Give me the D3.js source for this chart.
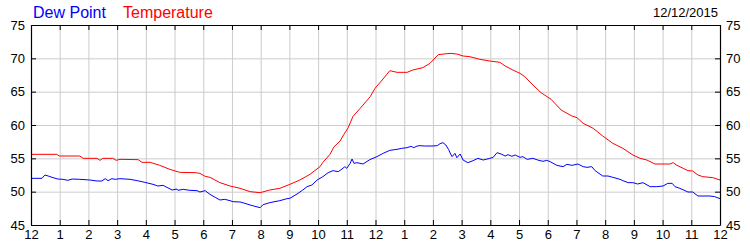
<!DOCTYPE html>
<html>
<head>
<meta charset="utf-8">
<script src="https://cdn.jsdelivr.net/npm/d3@7"></script>
<style>
  body { margin: 0; background: #fff; }
  text { font-family: "Liberation Sans", Arial, sans-serif; }
</style>
</head>
<body>
<svg width="750" height="250"></svg>
<script>
// minutes after midnight, readings in deg F
var tempMinutes = [0,54,59,102,109,138,144,150,171,178,186,224,232,249,269,290,311,343,353,364,374,395,416,437,458,479,499,520,541,562,583,604,610,625,633,646,654,663,673,688,709,719,734,750,765,786,798,819,834,851,876,890,903,917,938,959,980,991,1007,1022,1032,1049,1066,1087,1108,1129,1141,1154,1175,1195,1216,1237,1258,1273,1287,1304,1335,1342,1350,1363,1373,1383,1394,1404,1425,1440];
var tempValues = [55.6,55.6,55.35,55.35,55.0,55.0,54.7,55.0,55.0,54.7,54.85,54.8,54.4,54.4,53.95,53.35,52.9,52.85,52.75,52.3,52.15,51.35,50.85,50.5,50.0,49.85,50.25,50.5,51.1,51.75,52.6,53.75,54.4,55.6,56.7,57.6,58.6,59.6,61.3,62.5,64.25,65.5,66.75,68.15,67.9,67.9,68.25,68.6,69.25,70.55,70.75,70.65,70.35,70.25,69.85,69.6,69.4,68.85,68.25,67.75,67.25,66.0,64.85,63.85,62.25,61.4,61.1,60.25,59.5,58.35,57.25,56.5,55.5,55.0,54.75,54.15,54.15,54.35,53.95,53.5,53.15,53.1,52.5,52.25,52.1,51.75];

var dewMinutes = [0,23,29,36,46,56,67,77,86,102,123,138,148,155,161,169,176,186,207,222,238,255,265,276,284,295,305,307,318,332,347,353,364,374,385,395,405,416,422,437,447,458,468,479,485,499,520,535,541,556,568,577,587,598,610,621,631,642,650,656,660,667,671,675,681,694,708,723,736,750,765,775,786,794,800,807,813,823,838,849,855,861,867,873,876,880,886,890,897,903,913,924,934,945,959,966,974,984,991,997,1005,1012,1022,1028,1037,1049,1059,1070,1078,1085,1099,1112,1120,1131,1143,1154,1162,1172,1179,1195,1206,1216,1231,1237,1248,1258,1268,1279,1294,1308,1321,1331,1340,1346,1356,1367,1373,1383,1394,1419,1429,1440];
var dewValues = [52.0,52.0,52.5,52.35,52.1,51.9,51.85,51.7,51.9,51.85,51.75,51.6,51.6,51.95,51.65,51.95,51.85,51.95,51.85,51.65,51.4,51.1,50.85,50.95,50.65,50.25,50.4,50.2,50.35,50.2,50.15,49.95,50.15,49.6,49.15,48.75,48.85,48.65,48.5,48.45,48.25,48.0,47.8,47.6,48.05,48.35,48.65,48.95,49.0,49.65,50.25,50.75,51.0,51.75,52.25,52.85,53.15,53.0,53.4,53.75,53.5,54.25,54.9,54.25,54.35,54.15,54.8,55.25,55.75,56.2,56.35,56.5,56.6,56.8,56.6,56.85,56.9,56.85,56.85,56.9,57.2,57.35,57.0,56.3,55.8,55.25,55.75,55.1,55.65,54.75,54.35,54.65,55.0,54.75,55.0,55.15,55.85,55.6,55.35,55.55,55.3,55.5,55.15,55.25,54.85,55.0,54.75,54.55,54.7,54.5,53.95,53.75,54.1,53.95,54.15,53.75,53.65,53.75,53.15,52.35,52.35,52.15,51.85,51.65,51.35,51.35,51.15,51.35,50.75,50.75,50.85,51.25,51.25,50.75,50.5,50.15,49.95,49.95,49.35,49.35,49.25,48.95];

var hourTicks = d3.range(0, 25);
var hourLabels = ["12","1","2","3","4","5","6","7","8","9","10","11","12","1","2","3","4","5","6","7","8","9","10","11","12"];
var valueTicks = [45, 50, 55, 60, 65, 70, 75];
var dateLabel = "12/12/2015";

var width = 750;
var height = 250;
var margin = {left: 31, right: 30, top: 25, bottom: 25};

var x = d3.scaleLinear().domain([0, 24]).range([margin.left, width - margin.right]);
var y = d3.scaleLinear().domain([45, 75]).range([height - margin.bottom, margin.top]);

var svg = d3.select('svg');
var plotH = height - margin.bottom - margin.top;
var plotW = width - margin.right - margin.left;

// grid
svg.append('g')
  .attr('transform', 'translate(0,' + (height - margin.bottom) + ')')
  .call(d3.axisBottom(x).tickValues(hourTicks.slice(1, 24)).tickSize(-plotH).tickFormat(''))
  .call(function (g) {
    g.select('.domain').remove();
    g.selectAll('line').attr('stroke', '#cccccc');
  });

svg.append('g')
  .attr('transform', 'translate(' + margin.left + ',0)')
  .call(d3.axisLeft(y).tickValues(valueTicks.slice(1, 6)).tickSize(-plotW).tickFormat(''))
  .call(function (g) {
    g.select('.domain').remove();
    g.selectAll('line').attr('stroke', '#cccccc');
  });

// lines
var line = d3.line()
  .x(function (d) { return x(d[0] / 60); })
  .y(function (d) { return y(d[1]); });

svg.append('path')
  .datum(d3.zip(dewMinutes, dewValues))
  .attr('fill', 'none')
  .attr('stroke', '#0000ff')
  .attr('stroke-width', 1)
  .attr('d', line);

svg.append('path')
  .datum(d3.zip(tempMinutes, tempValues))
  .attr('fill', 'none')
  .attr('stroke', '#ff0000')
  .attr('stroke-width', 1)
  .attr('d', line);

// axes, ticks point inward
function styleAxis(g) {
  g.select('.domain').attr('stroke', '#000').attr('stroke-width', 1.2);
  g.selectAll('.tick line').attr('stroke', '#000');
  g.selectAll('text').attr('fill', '#000').style('font-size', '13px')
    .style('font-family', '"Liberation Sans", Arial, sans-serif');
}

svg.append('g')
  .attr('transform', 'translate(0,' + (height - margin.bottom) + ')')
  .call(d3.axisBottom(x).tickValues(hourTicks).tickSizeInner(-5).tickSizeOuter(0).tickPadding(5)
    .tickFormat(function (d, i) { return hourLabels[i]; }))
  .call(styleAxis);

svg.append('g')
  .attr('transform', 'translate(0,' + margin.top + ')')
  .call(d3.axisTop(x).tickValues(hourTicks).tickSizeInner(-5).tickSizeOuter(0).tickFormat(''))
  .call(styleAxis);

svg.append('g')
  .attr('transform', 'translate(' + margin.left + ',0)')
  .call(d3.axisLeft(y).tickValues(valueTicks).tickSizeInner(-5).tickSizeOuter(0).tickPadding(6))
  .call(styleAxis);

svg.append('g')
  .attr('transform', 'translate(' + (width - margin.right) + ',0)')
  .call(d3.axisRight(y).tickValues(valueTicks).tickSizeInner(-5).tickSizeOuter(0).tickPadding(6))
  .call(styleAxis);

// legend
svg.append('text')
  .attr('x', 33)
  .attr('y', 18)
  .attr('fill', '#0000ff')
  .style('font-size', '16px')
  .text('Dew Point');

svg.append('text')
  .attr('x', 123)
  .attr('y', 18)
  .attr('fill', '#ff0000')
  .style('font-size', '16px')
  .text('Temperature');

svg.append('text')
  .attr('x', 718)
  .attr('y', 17)
  .attr('text-anchor', 'end')
  .attr('fill', '#000')
  .style('font-size', '13px')
  .text(dateLabel);
</script>
</body>
</html>
